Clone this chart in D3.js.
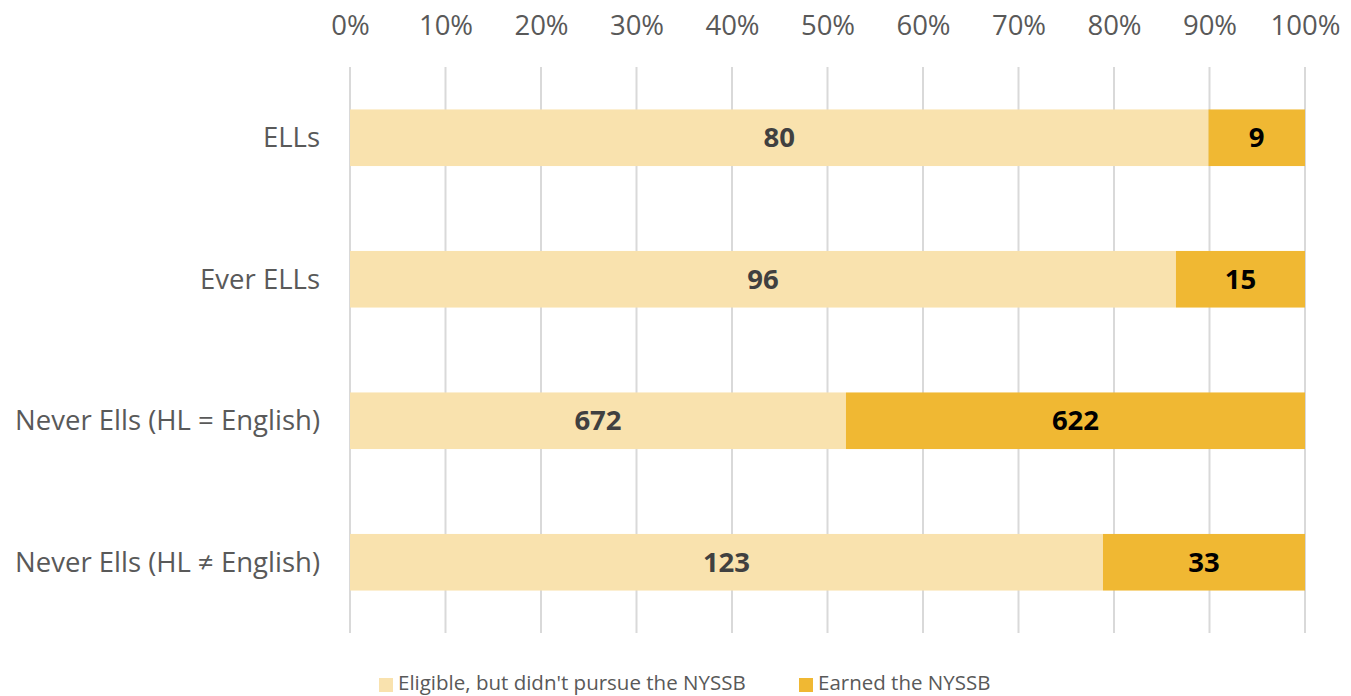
<!DOCTYPE html>
<html>
<head>
<meta charset="utf-8">
<script src="https://cdn.jsdelivr.net/npm/d3@7"></script>
<style>
  body { margin: 0; background: #fff; }
  svg text { font-family: "Open Sans", sans-serif; }
</style>
</head>
<body>
<div id="chart"></div>
<script>
var categories = ["ELLs", "Ever ELLs", "Never Ells (HL = English)", "Never Ells (HL \u2260 English)"];
var eligible = [80, 96, 672, 123];
var earned = [9, 15, 622, 33];
var seriesNames = ["Eligible, but didn't pursue the NYSSB", "Earned the NYSSB"];
var tickValues = [0, 0.1, 0.2, 0.3, 0.4, 0.5, 0.6, 0.7, 0.8, 0.9, 1];

var width = 1351, height = 696;
var margin = {top: 67, right: 46, bottom: 63, left: 350};

var colors = ["#F9E2AE", "#F0B833"];
var labelColors = ["#404040", "#000000"];

var rows = categories.map(function(c, i) {
    return {cat: c, vals: [eligible[i], earned[i]], total: eligible[i] + earned[i]};
});

var svg = d3.select("#chart").append("svg")
    .attr("width", width)
    .attr("height", height);

var x = d3.scaleLinear()
    .domain([0, 1])
    .range([margin.left, width - margin.right]);

var y = d3.scaleBand()
    .domain(categories)
    .range([margin.top, height - margin.bottom])
    .paddingInner(0.6)
    .paddingOuter(0.3);

// gridlines
svg.append("g")
    .selectAll("line")
    .data(tickValues)
    .enter()
    .append("line")
    .attr("x1", d => x(d))
    .attr("x2", d => x(d))
    .attr("y1", margin.top)
    .attr("y2", height - margin.bottom)
    .attr("stroke", "#D9D9D9")
    .attr("stroke-width", 2);

// top axis
var xAxis = svg.append("g")
    .attr("transform", "translate(0," + 35 + ")")
    .call(d3.axisTop(x).tickValues(tickValues).tickFormat(d3.format(".0%")).tickSize(0).tickPadding(0));
xAxis.select(".domain").remove();
xAxis.selectAll("text")
    .attr("fill", "#595959")
    .style("font-size", "27.5px");

// category axis
var yAxis = svg.append("g")
    .attr("transform", "translate(" + (margin.left - 30) + ",0)")
    .call(d3.axisLeft(y).tickSize(0).tickPadding(0));
yAxis.select(".domain").remove();
yAxis.selectAll("text")
    .attr("fill", "#595959")
    .attr("dy", "0.35em")
    .style("font-size", "27.5px");

// bars
var groups = svg.append("g")
    .selectAll("g")
    .data(rows)
    .enter()
    .append("g");

groups.each(function(d) {
    var g = d3.select(this);
    var start = 0;
    d.vals.forEach(function(v, k) {
        var frac = v / d.total;
        var x0 = x(start), x1 = x(start + frac);
        g.append("rect")
            .attr("x", x0)
            .attr("y", y(d.cat))
            .attr("width", x1 - x0)
            .attr("height", y.bandwidth())
            .attr("fill", colors[k]);
        g.append("text")
            .attr("x", (x0 + x1) / 2)
            .attr("y", y(d.cat) + y.bandwidth() / 2)
            .attr("dy", "0.35em")
            .attr("text-anchor", "middle")
            .attr("fill", labelColors[k])
            .style("font-size", "27.5px")
            .style("font-weight", "bold")
            .text(v);
        start += frac;
    });
});

// legend
var legendX = [379, 799];
var legend = svg.append("g")
    .selectAll("g")
    .data(seriesNames)
    .enter()
    .append("g")
    .attr("transform", (d, i) => "translate(" + legendX[i] + ",678)");

legend.append("rect")
    .attr("width", 14)
    .attr("height", 14)
    .attr("fill", (d, i) => colors[i]);

legend.append("text")
    .attr("x", 19)
    .attr("y", 12)
    .attr("fill", "#595959")
    .style("font-size", "20.5px")
    .text(d => d);
</script>
</body>
</html>
